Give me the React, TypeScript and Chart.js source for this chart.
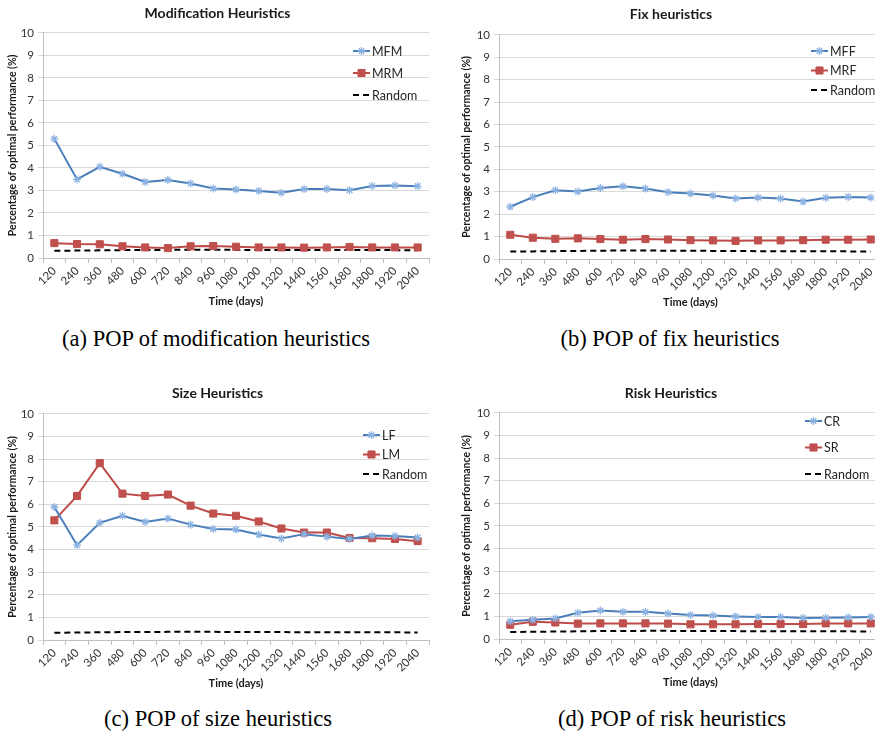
import React, { useEffect, useRef } from 'react';
import { Chart, registerables } from 'chart.js';
import { drawPoint } from 'chart.js/helpers';

Chart.register(...registerables);

const timeLabels = ['120', '240', '360', '480', '600', '720', '840', '960', '1080', '1200', '1320', '1440', '1560', '1680', '1800', '1920', '2040'];
const yTicks = [0, 1, 2, 3, 4, 5, 6, 7, 8, 9, 10];

const mfm = [5.29, 3.49, 4.05, 3.74, 3.38, 3.46, 3.31, 3.09, 3.04, 2.98, 2.9, 3.06, 3.06, 3.01, 3.2, 3.22, 3.19];
const mrm = [0.66, 0.62, 0.61, 0.52, 0.47, 0.44, 0.52, 0.53, 0.5, 0.47, 0.47, 0.46, 0.47, 0.49, 0.47, 0.47, 0.47];
const randomA = [0.32, 0.33, 0.34, 0.35, 0.36, 0.36, 0.37, 0.37, 0.36, 0.36, 0.36, 0.35, 0.35, 0.35, 0.35, 0.35, 0.34];

const mff = [2.33, 2.76, 3.07, 3.01, 3.17, 3.24, 3.14, 2.98, 2.92, 2.83, 2.7, 2.74, 2.7, 2.56, 2.73, 2.77, 2.74];
const mrf = [1.08, 0.95, 0.9, 0.92, 0.89, 0.86, 0.89, 0.87, 0.84, 0.83, 0.81, 0.83, 0.83, 0.84, 0.86, 0.86, 0.87];
const randomB = [0.33, 0.34, 0.35, 0.36, 0.37, 0.38, 0.38, 0.37, 0.37, 0.36, 0.36, 0.35, 0.35, 0.35, 0.35, 0.34, 0.34];

const lf = [5.88, 4.19, 5.18, 5.49, 5.22, 5.37, 5.1, 4.91, 4.88, 4.66, 4.49, 4.68, 4.57, 4.47, 4.62, 4.6, 4.53];
const lm = [5.29, 6.37, 7.82, 6.47, 6.37, 6.43, 5.94, 5.59, 5.49, 5.24, 4.93, 4.75, 4.75, 4.51, 4.5, 4.47, 4.37];
const randomC = [0.32, 0.33, 0.34, 0.35, 0.35, 0.36, 0.36, 0.36, 0.35, 0.35, 0.35, 0.34, 0.34, 0.34, 0.34, 0.34, 0.33];

const cr = [0.78, 0.85, 0.91, 1.16, 1.26, 1.2, 1.2, 1.13, 1.06, 1.04, 1.0, 0.97, 0.97, 0.93, 0.94, 0.95, 0.97];
const sr = [0.63, 0.76, 0.73, 0.68, 0.69, 0.69, 0.69, 0.68, 0.65, 0.65, 0.65, 0.66, 0.66, 0.66, 0.69, 0.69, 0.69];
const randomD = [0.31, 0.32, 0.33, 0.34, 0.35, 0.35, 0.36, 0.36, 0.35, 0.35, 0.35, 0.34, 0.34, 0.34, 0.34, 0.34, 0.33];

const FONT = 'Lato, "Open Sans", sans-serif';
const BLUE = '#4A7EBB';
const BLUE_MARK = '#8DB3E2';
const RED = '#BE4B48';

const insideLegend = {
  id: 'insideLegend',
  afterDraw(chart: any, _args: any, opts: any) {
    const ctx = chart.ctx;
    const ds = chart.data.datasets;
    ctx.save();
    ds.forEach((d: any, i: number) => {
      const y = opts.y + i * opts.gap;
      const x0 = opts.x;
      const x1 = opts.x + 17;
      ctx.beginPath();
      ctx.strokeStyle = d.borderColor;
      ctx.lineWidth = 2;
      ctx.setLineDash(d.borderDash || []);
      ctx.moveTo(x0, y);
      ctx.lineTo(x1, y);
      ctx.stroke();
      ctx.setLineDash([]);
      if (d.pointRadius > 0) {
        ctx.fillStyle = d.pointBackgroundColor;
        ctx.strokeStyle = d.pointBorderColor;
        ctx.lineWidth = d.pointBorderWidth;
        drawPoint(ctx, { pointStyle: d.pointStyle, radius: d.pointRadius, borderWidth: d.pointBorderWidth, rotation: 0 }, (x0 + x1) / 2, y);
      }
      ctx.fillStyle = '#262626';
      ctx.font = `12.5px ${FONT}`;
      ctx.textBaseline = 'middle';
      ctx.textAlign = 'left';
      ctx.fillText(d.label, x1 + 2, y + 0.5);
    });
    ctx.restore();
  },
};

type Spec = {
  title: string;
  labelA: string;
  dataA: number[];
  labelB: string;
  dataB: number[];
  random: number[];
  left: number;
  top: number;
  width: number;
  height: number;
  padLeft: number;
  padRight: number;
  yWidth: number;
  titleTop: number;
  titleBottom: number;
  legendX: number;
  legendY: number;
  legendGap: number;
};

function makeConfig(s: Spec): any {
  return {
    type: 'line',
    data: {
      labels: timeLabels,
      datasets: [
        {
          label: s.labelA,
          data: s.dataA,
          borderColor: BLUE,
          borderWidth: 2,
          backgroundColor: 'transparent',
          pointStyle: 'star',
          pointRadius: 4,
          pointBorderColor: BLUE_MARK,
          pointBackgroundColor: BLUE_MARK,
          pointBorderWidth: 1.3,
          tension: 0,
        },
        {
          label: s.labelB,
          data: s.dataB,
          borderColor: RED,
          borderWidth: 2,
          backgroundColor: 'transparent',
          pointStyle: 'rect',
          pointRadius: 5,
          pointBorderColor: '#C0504D',
          pointBackgroundColor: '#C0504D',
          pointBorderWidth: 1,
          tension: 0,
        },
        {
          label: 'Random',
          data: s.random,
          borderColor: '#000000',
          borderWidth: 2,
          borderDash: [6, 4],
          backgroundColor: 'transparent',
          pointRadius: 0,
          tension: 0,
        },
      ],
    },
    plugins: [insideLegend],
    options: {
      responsive: false,
      animation: false,
      layout: { padding: { left: s.padLeft, right: s.padRight, top: 0, bottom: 0 } },
      plugins: {
        legend: { display: false },
        tooltip: { enabled: false },
        title: {
          display: true,
          text: s.title,
          color: '#1a1a1a',
          font: { family: FONT, size: 14, weight: 'bold' },
          padding: { top: s.titleTop, bottom: s.titleBottom },
        },
        insideLegend: { x: s.legendX, y: s.legendY, gap: s.legendGap },
      },
      scales: {
        x: {
          offset: true,
          grid: { display: true, drawOnChartArea: false, drawTicks: true, tickLength: 5, offset: true, color: '#BFBFBF' },
          border: { display: true, color: '#BFBFBF' },
          ticks: {
            autoSkip: false,
            maxRotation: 45,
            minRotation: 45,
            padding: 1,
            color: '#333333',
            font: { family: FONT, size: 11.5 },
          },
          title: {
            display: true,
            text: 'Time (days)',
            color: '#1a1a1a',
            font: { family: FONT, size: 11, weight: 'bold' },
            padding: { top: 0, bottom: 2 },
          },
          afterFit: (sc: any) => {
            sc.height = 52;
          },
        },
        y: {
          min: 0,
          max: 10,
          afterBuildTicks: (sc: any) => {
            sc.ticks = yTicks.map((v) => ({ value: v }));
          },
          grid: { color: '#D9D9D9', drawTicks: true, tickLength: 5, lineWidth: 1 },
          border: { display: true, color: '#BFBFBF' },
          ticks: { padding: 4, color: '#333333', font: { family: FONT, size: 11.5 } },
          title: {
            display: true,
            text: 'Percentage of optimal performance (%)',
            color: '#1a1a1a',
            font: { family: FONT, size: 10.5, weight: 'bold' },
            padding: { top: 0, bottom: 2 },
          },
          afterFit: (sc: any) => {
            sc.width = s.yWidth;
          },
        },
      },
    },
  };
}

function LineChart({ spec }: { spec: Spec }) {
  const ref = useRef<HTMLCanvasElement>(null);
  useEffect(() => {
    const chart = new Chart(ref.current as HTMLCanvasElement, makeConfig(spec));
    return () => chart.destroy();
  }, []);
  return (
    <div style={{ position: 'absolute', left: spec.left, top: spec.top, width: spec.width, height: spec.height }}>
      <canvas ref={ref} width={spec.width} height={spec.height} style={{ display: 'block' }} />
    </div>
  );
}

const specs: Spec[] = [
  {
    title: 'Modification Heuristics', labelA: 'MFM', dataA: mfm, labelB: 'MRM', dataB: mrm, random: randomA,
    left: 0, top: 0, width: 440, height: 310, padLeft: 6, padRight: 11, yWidth: 37,
    titleTop: 5, titleBottom: 11, legendX: 353, legendY: 51, legendGap: 22,
  },
  {
    title: 'Fix heuristics', labelA: 'MFF', dataA: mff, labelB: 'MRF', dataB: mrf, random: randomB,
    left: 440, top: 0, width: 462, height: 311, padLeft: 20, padRight: 20, yWidth: 39,
    titleTop: 6, titleBottom: 12, legendX: 371, legendY: 51, legendGap: 19.5,
  },
  {
    title: 'Size Heuristics', labelA: 'LF', dataA: lf, labelB: 'LM', dataB: lm, random: randomC,
    left: 0, top: 380, width: 440, height: 312, padLeft: 6, padRight: 11, yWidth: 37,
    titleTop: 5, titleBottom: 12, legendX: 363, legendY: 55, legendGap: 19.5,
  },
  {
    title: 'Risk Heuristics', labelA: 'CR', dataA: cr, labelB: 'SR', dataB: sr, random: randomD,
    left: 440, top: 380, width: 462, height: 311, padLeft: 20, padRight: 20, yWidth: 39,
    titleTop: 5, titleBottom: 11, legendX: 365, legendY: 41, legendGap: 26.5,
  },
];

const captions = [
  { text: '(a) POP of modification heuristics', cx: 216, cy: 339 },
  { text: '(b) POP of fix heuristics', cx: 670, cy: 339 },
  { text: '(c) POP of size heuristics', cx: 218, cy: 719 },
  { text: '(d) POP of risk heuristics', cx: 672, cy: 719 },
];

export default function App() {
  return (
    <div style={{ position: 'absolute', left: 0, top: 0, width: 875, height: 736, overflow: 'hidden', background: '#ffffff' }}>
      {specs.map((s, i) => (
        <LineChart key={i} spec={s} />
      ))}
      {captions.map((c, i) => (
        <div
          key={'c' + i}
          style={{
            position: 'absolute',
            left: c.cx - 200,
            top: c.cy - 14,
            width: 400,
            height: 28,
            lineHeight: '28px',
            textAlign: 'center',
            fontFamily: '"Liberation Serif", "Times New Roman", serif',
            fontSize: 22.5,
            color: '#000',
            whiteSpace: 'nowrap',
          }}
        >
          {c.text}
        </div>
      ))}
    </div>
  );
}
